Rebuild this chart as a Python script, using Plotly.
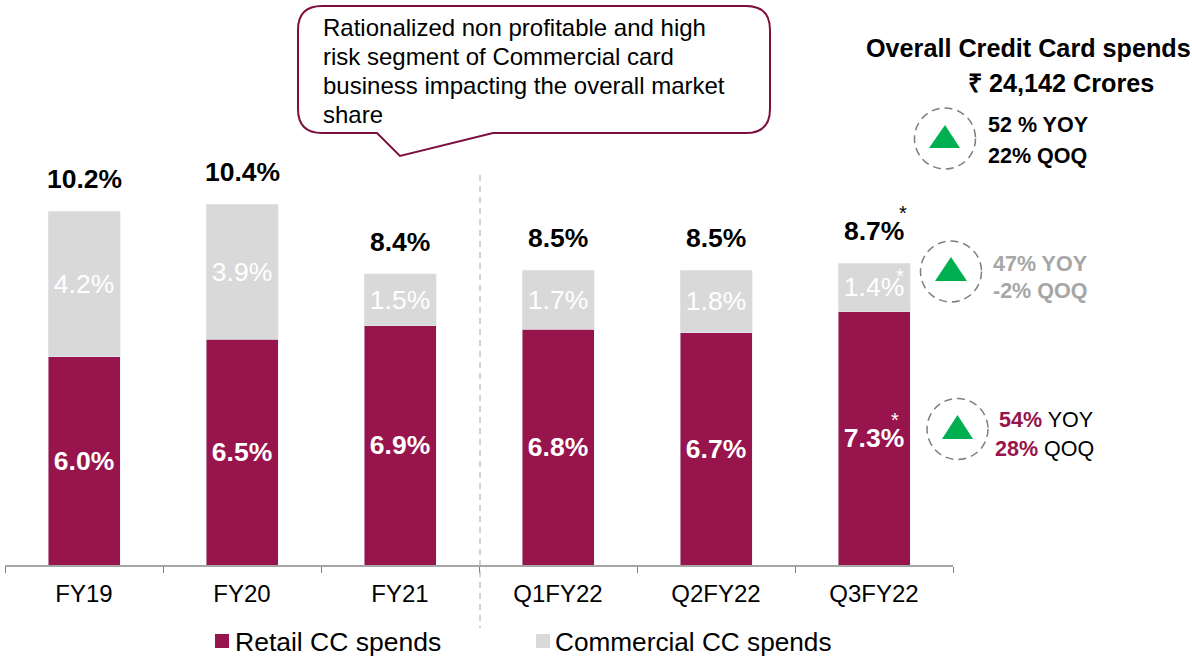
import plotly.graph_objects as go

categories = ["FY19", "FY20", "FY21", "Q1FY22", "Q2FY22", "Q3FY22"]
retail = [6.0, 6.5, 6.9, 6.8, 6.7, 7.3]
commercial = [4.2, 3.9, 1.5, 1.7, 1.8, 1.4]
totals = [10.2, 10.4, 8.4, 8.5, 8.5, 8.7]

W, H = 1192, 657
L, R, B = 5, 239, 92
PLOT_H = H - B
PLOT_W = W - L - R
FONT = "Liberation Sans"
BURG = "#97144D"
GREY = "#D9D9D9"


def px(x):
    return (x - L) / PLOT_W


def py(y):
    return 1 - y / PLOT_H


def pt(x, y):
    return f"{px(x):.5f} {py(y):.5f}"


fig = go.Figure()
fig.add_bar(x=categories, y=retail, name="Retail CC spends", marker_color=BURG, width=72 / 158,
            text=[f"{v:.1f}%" for v in retail], textposition="inside", insidetextanchor="middle",
            textangle=0, constraintext="none",
            insidetextfont=dict(family=FONT, size=26.5, color="white", weight="bold"))
fig.add_bar(x=categories, y=commercial, name="Commercial CC spends", marker_color=GREY, width=72 / 158,
            text=[f"{v:.1f}%" for v in commercial], textposition="inside", insidetextanchor="middle",
            textangle=0, constraintext="none",
            insidetextfont=dict(family=FONT, size=26.5, color="white"))

shapes = []
annos = []


def text(x, y, s, size=22, color="black", bold=False, anchor="left"):
    annos.append(dict(xref="paper", yref="paper", x=px(x), y=py(y), text=f"<b>{s}</b>" if bold else s,
                      showarrow=False, xanchor=anchor, yanchor="middle",
                      font=dict(family=FONT, size=size, color=color), borderpad=0, borderwidth=0))


for c, t in zip(categories, totals):
    annos.append(dict(xref="x", yref="y", x=c, y=t, yshift=32, text=f"<b>{t:.1f}%</b>", showarrow=False,
                      yanchor="middle", xanchor="center", font=dict(family=FONT, size=26.5, color="black")))

# Separator
shapes.append(dict(type="line", xref="paper", yref="paper", x0=px(480), x1=px(480), y0=py(175), y1=py(628),
                   line=dict(color="#A6A6A6", width=1, dash="6px,5px")))

# Callout
x0, x1, y0, y1, r = 298, 770, 6, 133, 24
path = (f"M {pt(x0 + r, y0)} L {pt(x1 - r, y0)} Q {pt(x1, y0)} {pt(x1, y0 + r)} "
        f"L {pt(x1, y1 - r)} Q {pt(x1, y1)} {pt(x1 - r, y1)} L {pt(493, y1)} L {pt(400, 156)} L {pt(377, y1)} "
        f"L {pt(x0 + r, y1)} Q {pt(x0, y1)} {pt(x0, y1 - r)} L {pt(x0, y0 + r)} Q {pt(x0, y0)} {pt(x0 + r, y0)} Z")
shapes.append(dict(type="path", xref="paper", yref="paper", path=path, fillcolor="white",
                   line=dict(color="#7B1040", width=2)))
for i, line in enumerate(["Rationalized non profitable and high", "risk segment of Commercial card",
                          "business impacting the overall market", "share"]):
    text(323, 28 + i * 28.7, line, size=24)

# Indicators
for cx, cy, r, ax, ay, by, bl, br in [(945, 138.5, 30.5, 945, 125, 148, 929, 960),
                                      (951, 271.5, 30.5, 951, 257, 281, 935, 967),
                                      (957.5, 429, 30.5, 957.5, 415, 439, 942, 973)]:
    shapes.append(dict(type="circle", xref="paper", yref="paper", x0=px(cx - r), x1=px(cx + r), y0=py(cy + r),
                       y1=py(cy - r), line=dict(color="#7F7F7F", width=1.5, dash="8px,5px")))
    shapes.append(dict(type="path", xref="paper", yref="paper", path=f"M {pt(ax, ay)} L {pt(br, by)} L {pt(bl, by)} Z",
                       fillcolor="#00B050", line=dict(width=0)))

text(866, 48, "Overall Credit Card spends", size=25.2, bold=True)
text(968, 83, "₹ 24,142 Crores", size=25.2, bold=True)
text(988, 125, "52 % YOY", size=21.5, bold=True)
text(988, 156.5, "22% QOQ", size=21.5, bold=True)
text(993, 263.5, "47% YOY", size=21.5, color="#A6A6A6", bold=True)
text(993, 290.5, "-2% QOQ", size=21.5, color="#A6A6A6", bold=True)
text(999, 420, f"<b><span style='color:{BURG}'>54%</span></b> YOY", size=21.5)
text(995, 449, f"<b><span style='color:{BURG}'>28%</span></b> QOQ", size=21.5)
text(903, 213, "*", size=20, anchor="center")
text(900, 276, "*", size=20, color="white", anchor="center")
text(895, 420, "*", size=20, color="white", anchor="center")

# Legend
shapes.append(dict(type="rect", xref="paper", yref="paper", x0=px(215), x1=px(229), y0=py(648), y1=py(634),
                   fillcolor=BURG, line=dict(width=0)))
shapes.append(dict(type="rect", xref="paper", yref="paper", x0=px(536), x1=px(550), y0=py(648), y1=py(634),
                   fillcolor=GREY, line=dict(width=0)))
text(235, 642, "Retail CC spends", size=26.5)
text(555, 642, "Commercial CC spends", size=26.2)

fig.update_layout(
    width=W, height=H, barmode="stack", showlegend=False, paper_bgcolor="white", plot_bgcolor="white",
    margin=dict(l=L, r=R, t=0, b=B, pad=0), font=dict(family=FONT), shapes=shapes, annotations=annos,
    xaxis=dict(type="category", range=[-0.5, 5.5], tickson="boundaries", ticks="outside", ticklen=6, tickwidth=1,
               tickcolor="#7F7F7F", showline=True, linecolor="#A6A6A6", linewidth=1.5, showgrid=False,
               tickfont=dict(family=FONT, size=24, color="black"), ticklabelstandoff=6),
    yaxis=dict(range=[0, PLOT_H / 34.7], visible=False, showgrid=False, zeroline=False),
)
fig.write_html("out.html", config=dict(displayModeBar=False),
               post_script="document.body.style.margin='0';document.body.style.overflow='hidden';")
